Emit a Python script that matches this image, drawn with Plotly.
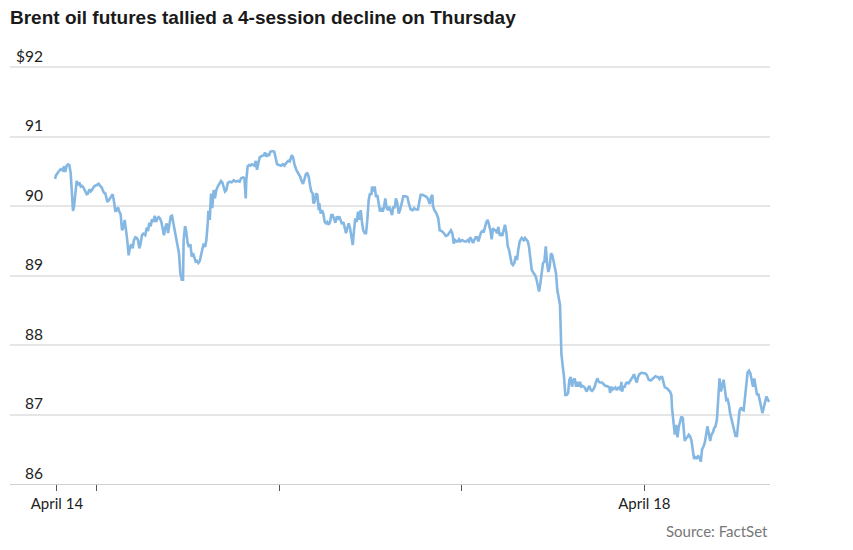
import pandas as pd
import plotly.graph_objects as go

# Minutes since 2024-04-14 18:30
minutes = [
    0, 8, 26, 45, 61, 71, 81, 92, 103, 113,
    124, 134, 142, 150, 160, 171, 181, 192, 203, 213,
    223, 239, 250, 260, 271, 282, 292, 308, 329, 345,
    355, 368, 376, 387, 397, 408, 413, 428, 444, 455,
    466, 476, 487, 497, 507, 518, 529, 539, 550, 560,
    570, 581, 592, 602, 613, 623, 634, 645, 655, 665,
    676, 686, 697, 712, 724, 734, 744, 755, 765, 776,
    787, 797, 807, 818, 828, 839, 850, 860, 870, 881,
    892, 902, 913, 923, 933, 949, 968, 978, 989, 1000,
    1010, 1015, 1026, 1036, 1047, 1057, 1068, 1079, 1089, 1099,
    1110, 1120, 1131, 1142, 1152, 1162, 1173, 1184, 1194, 1205,
    1210, 1221, 1225, 1231, 1241, 1252, 1262, 1273, 1284, 1299,
    1310, 1320, 1331, 1341, 1352, 1363, 1378, 1394, 1410, 1426,
    1442, 1457, 1468, 1483, 1494, 1505, 1509, 1520, 1531, 1541,
    1552, 1562, 1573, 1584, 1594, 1604, 1615, 1631, 1647, 1657,
    1667, 1678, 1688, 1699, 1714, 1730, 1741, 1752, 1767, 1783,
    1799, 1809, 1825, 1841, 1852, 1868, 1878, 1888, 1904, 1920,
    1935, 1947, 1957, 1967, 1980, 1991, 2002, 2012, 2022, 2033,
    2038, 2049, 2059, 2070, 2081, 2085, 2096, 2107, 2117, 2128,
    2138, 2148, 2159, 2170, 2180, 2191, 2201, 2212, 2223, 2233,
    2243, 2254, 2264, 2275, 2286, 2296, 2306, 2317, 2328, 2338,
    2349, 2359, 2369, 2380, 2391, 2401, 2412, 2422, 2432, 2444,
    2454, 2464, 2475, 2485, 2496, 2501, 2511, 2522, 2533, 2543,
    2554, 2564, 2575, 2586, 2596, 2606, 2617, 2627, 2638, 2649,
    2659, 2669, 2680, 2690, 2701, 2712, 2722, 2738, 2748, 2764,
    2780, 2791, 2806, 2822, 2833, 2848, 2864, 2874, 2885, 2901,
    2917, 2933, 2945, 2956, 2967, 2977, 2982, 2993, 3008, 3024,
    3035, 3051, 3067, 3083, 3098, 3114, 3124, 3135, 3146, 3156,
    3167, 3178, 3188, 3198, 3214, 3230, 3245, 3256, 3266, 3277,
    3288, 3298, 3308, 3319, 3330, 3340, 3351, 3361, 3371, 3382,
    3393, 3403, 3414, 3424, 3435, 3445, 3456, 3466, 3477, 3487,
    3498, 3509, 3519, 3529, 3540, 3550, 3561, 3572, 3582, 3592,
    3603, 3613, 3624, 3635, 3645, 3655, 3666, 3682, 3698, 3708,
    3719, 3730, 3740, 3750, 3761, 3777, 3787, 3798, 3809, 3819,
    3829, 3840, 3850, 3861, 3872, 3882, 3892, 3903, 3913, 3924,
    3935, 3943, 3953, 3963, 3974, 3984, 3990, 3995, 4006, 4016,
    4026, 4037, 4048, 4058, 4069, 4079, 4089, 4100, 4111, 4121,
    4132, 4142, 4153, 4163, 4174, 4184, 4195, 4205, 4216, 4227,
    4237, 4247, 4258, 4268, 4279, 4290, 4300, 4316, 4326, 4342,
    4353, 4363, 4374, 4379, 4390, 4400, 4411, 4421, 4432, 4442,
    4453, 4463, 4468, 4474, 4484, 4495, 4505, 4515, 4526, 4537,
    4547, 4558, 4568, 4579, 4590, 4600, 4611, 4626, 4642, 4658,
    4669, 4684, 4700, 4710, 4721, 4737, 4748, 4758, 4769, 4779,
    4790, 4800, 4811, 4826, 4842, 4852, 4863, 4868, 4879, 4890,
    4900, 4911, 4921, 4931, 4942, 4953, 4963, 4968, 4979, 4989,
    5000, 5010, 5021, 5032, 5042, 5053, 5063, 5074, 5084, 5095,
    5105, 5116, 5126, 5137, 5147, 5158, 5169, 5179, 5190, 5200,
    5211, 5222, 5232, 5243, 5254, 5264, 5275, 5286, 5296, 5306,
    5317, 5326, 5338, 5349, 5359, 5369, 5380, 5391, 5401, 5412,
    5422, 5433, 5443, 5454, 5464, 5475, 5486, 5496, 5507, 5517,
    5528, 5539, 5549, 5560, 5571, 5581, 5591, 5602, 5613, 5623, 5634,
]

prices = [
    90.39, 90.44, 90.49, 90.53, 90.51, 90.57, 90.49, 90.58, 90.60, 90.59,
    90.47, 90.18, 89.93, 89.99, 90.18, 90.36, 90.30, 90.34, 90.28, 90.29,
    90.27, 90.21, 90.17, 90.18, 90.24, 90.21, 90.23, 90.28, 90.30, 90.32,
    90.29, 90.27, 90.23, 90.19, 90.18, 90.11, 90.06, 90.09, 90.13, 90.17,
    90.06, 89.92, 89.94, 89.98, 89.92, 89.88, 89.65, 89.69, 89.80, 89.68,
    89.51, 89.29, 89.41, 89.45, 89.39, 89.51, 89.55, 89.54, 89.51, 89.39,
    89.46, 89.58, 89.60, 89.58, 89.69, 89.64, 89.76, 89.71, 89.81, 89.77,
    89.86, 89.77, 89.82, 89.84, 89.82, 89.77, 89.66, 89.58, 89.69, 89.75,
    89.61, 89.70, 89.85, 89.86, 89.76, 89.65, 89.44, 89.32, 89.03, 88.94,
    88.94, 89.51, 89.71, 89.63, 89.46, 89.41, 89.45, 89.27, 89.32, 89.25,
    89.20, 89.21, 89.18, 89.21, 89.29, 89.37, 89.46, 89.41, 89.51, 89.75,
    89.93, 89.80, 89.94, 90.18, 89.97, 90.23, 90.11, 90.23, 90.28, 90.34,
    90.36, 90.34, 90.25, 90.21, 90.23, 90.33, 90.35, 90.34, 90.37, 90.35,
    90.36, 90.35, 90.40, 90.41, 90.40, 90.11, 90.37, 90.57, 90.59, 90.58,
    90.60, 90.59, 90.58, 90.65, 90.52, 90.61, 90.70, 90.72, 90.73, 90.77,
    90.71, 90.75, 90.72, 90.78, 90.79, 90.78, 90.66, 90.60, 90.59, 90.58,
    90.60, 90.58, 90.62, 90.65, 90.64, 90.73, 90.70, 90.61, 90.52, 90.47,
    90.42, 90.35, 90.32, 90.38, 90.46, 90.47, 90.42, 90.30, 90.21, 90.18,
    90.04, 90.06, 90.18, 90.16, 89.94, 90.04, 89.89, 89.94, 89.89, 89.77,
    89.75, 89.77, 89.73, 89.77, 89.87, 89.87, 89.80, 89.76, 89.85, 89.82,
    89.85, 89.80, 89.74, 89.77, 89.68, 89.61, 89.68, 89.75, 89.68, 89.56,
    89.44, 89.65, 89.82, 89.77, 89.92, 89.80, 89.94, 89.77, 89.65, 89.61,
    89.61, 89.80, 90.09, 90.18, 90.16, 90.28, 90.21, 90.28, 90.13, 90.16,
    90.04, 89.92, 89.97, 89.92, 89.99, 90.11, 89.97, 89.94, 89.99, 89.92,
    89.87, 89.99, 89.97, 90.11, 90.04, 89.89, 89.94, 90.06, 90.14, 90.14,
    90.13, 90.04, 89.95, 89.94, 89.97, 89.95, 89.95, 90.06, 90.16, 90.16,
    90.14, 90.13, 90.09, 90.03, 90.13, 90.16, 90.00, 89.94, 89.90, 89.82,
    89.65, 89.64, 89.61, 89.57, 89.58, 89.62, 89.65, 89.61, 89.46, 89.51,
    89.49, 89.49, 89.52, 89.49, 89.51, 89.49, 89.49, 89.51, 89.49, 89.55,
    89.51, 89.47, 89.51, 89.55, 89.55, 89.49, 89.56, 89.62, 89.64, 89.62,
    89.70, 89.77, 89.80, 89.73, 89.65, 89.52, 89.68, 89.65, 89.65, 89.61,
    89.70, 89.57, 89.61, 89.57, 89.65, 89.73, 89.62, 89.42, 89.37, 89.29,
    89.17, 89.15, 89.18, 89.28, 89.22, 89.37, 89.49, 89.54, 89.51, 89.54,
    89.52, 89.49, 89.41, 89.27, 89.08, 89.03, 89.01, 88.95, 88.84, 88.77,
    88.88, 89.09, 89.18, 89.20, 89.42, 89.18, 89.05, 89.13, 89.32, 89.29,
    89.18, 89.15, 89.03, 88.79, 88.65, 88.58, 88.22, 87.88, 87.69, 87.54,
    87.28, 87.28, 87.31, 87.50, 87.54, 87.40, 87.49, 87.52, 87.40, 87.47,
    87.40, 87.47, 87.40, 87.41, 87.40, 87.36, 87.33, 87.38, 87.41, 87.35,
    87.34, 87.36, 87.40, 87.47, 87.52, 87.47, 87.46, 87.46, 87.44, 87.41,
    87.41, 87.40, 87.39, 87.31, 87.40, 87.36, 87.38, 87.39, 87.35, 87.38,
    87.39, 87.35, 87.47, 87.33, 87.40, 87.40, 87.45, 87.46, 87.45, 87.49,
    87.51, 87.54, 87.58, 87.51, 87.46, 87.54, 87.58, 87.60, 87.60, 87.59,
    87.57, 87.50, 87.49, 87.51, 87.52, 87.55, 87.54, 87.54, 87.51, 87.54,
    87.54, 87.46, 87.39, 87.38, 87.35, 87.33, 87.28, 87.09, 86.90, 86.71,
    86.85, 86.67, 86.82, 86.92, 86.97, 86.95, 86.78, 86.62, 86.66, 86.67,
    86.71, 86.69, 86.63, 86.46, 86.36, 86.40, 86.36, 86.40, 86.39, 86.32,
    86.50, 86.54, 86.59, 86.71, 86.83, 86.73, 86.62, 86.71, 86.74, 86.80,
    86.83, 86.92, 87.31, 87.52, 87.33, 87.40, 87.50, 87.35, 87.21, 87.22,
    87.14, 87.02, 86.93, 86.82, 86.73, 86.69, 86.69, 86.87, 87.06, 87.10,
    87.07, 87.06, 87.26, 87.50, 87.60, 87.63, 87.59, 87.50, 87.40, 87.52,
    87.38, 87.28, 87.30, 87.18, 87.11, 87.02, 87.09, 87.16, 87.26, 87.22, 87.18,
]

assert len(minutes) == len(prices), (len(minutes), len(prices))

start_time = "2024-04-14 18:30"
x_range = ["2024-04-14 12:35", "2024-04-18 16:31"]
x_tickvals = ["2024-04-14 18:45", "2024-04-15", "2024-04-16", "2024-04-17", "2024-04-18"]
x_ticktext = ["April 14", "", "", "", "April 18"]
y_tickvals = [86, 87, 88, 89, 90, 91, 92]
y_ticktext = ["\u200786", "\u200787", "\u200788", "\u200789", "\u200790", "\u200791", "$92"]

times = pd.Timestamp(start_time) + pd.to_timedelta(minutes, unit="min")

fig = go.Figure()
fig.add_trace(go.Scatter(
    x=times, y=prices, mode="lines",
    line=dict(color="#85b7e3", width=2.6),
    hoverinfo="skip", showlegend=False,
))

fig.update_layout(
    width=853, height=550,
    margin=dict(l=10, r=83, t=40, b=66),
    paper_bgcolor="white", plot_bgcolor="white",
    title=dict(
        text="<b>Brent oil futures tallied a 4-session decline on Thursday</b>",
        font=dict(family="Liberation Sans, Arial, sans-serif", size=19, color="#1a1a1a"),
        x=10 / 853, xanchor="left", xref="container",
        y=1 - 17 / 550, yanchor="middle", yref="container",
    ),
    xaxis=dict(
        type="date", range=x_range,
        tickvals=x_tickvals, ticktext=x_ticktext,
        ticks="outside", ticklen=6, tickcolor="#555", tickwidth=1,
        showgrid=False, showline=True, linecolor="#d0d0d0", linewidth=1,
        zeroline=False,
        tickfont=dict(family="Lato, sans-serif", size=15, color="#222"),
    ),
    yaxis=dict(
        range=[86, 92 + 27 / 69.5],
        tickvals=y_tickvals, ticktext=y_ticktext,
        ticklabelposition="inside top",
        ticklabelstandoff=3,
        showgrid=True, gridcolor="#e6e6e6", gridwidth=1.5,
        zeroline=False, showline=False, ticks="",
        tickfont=dict(family="Lato, sans-serif", size=15.5, color="#222"),
    ),
    annotations=[dict(
        text="Source: FactSet", xref="paper", yref="paper",
        x=1, y=-(531 - 484) / 444, xanchor="right", yanchor="middle",
        showarrow=False,
        font=dict(family="Lato, sans-serif", size=15, color="#777"),
    )],
)

fig.write_html("out.html")
